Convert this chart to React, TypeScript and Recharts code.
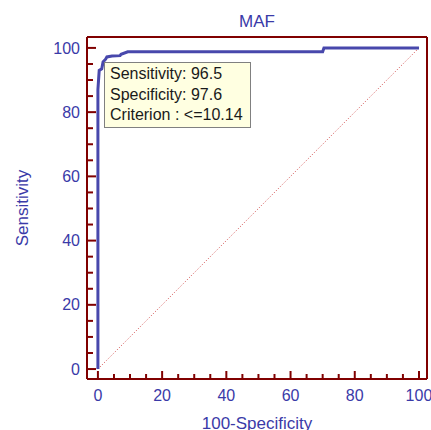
import { LineChart, Line, XAxis, YAxis } from 'recharts';

// ROC curve for MAF
const falsePositive = [0, 0, 0.4, 1.2, 1.6, 2.4, 2.8, 4.4, 6.9, 7.2, 9.3, 70, 70.4, 100];
const sensitivity = [0, 87, 93, 93.5, 95.6, 96.5, 97.2, 97.5, 97.6, 98, 98.8, 98.8, 100, 100];
const diagonalX = [0, 100];
const diagonalY = [0, 100];
const axisTicks = [0, 5, 10, 15, 20, 25, 30, 35, 40, 45, 50, 55, 60, 65, 70, 75, 80, 85, 90, 95, 100];
const infoLines = ['Sensitivity: 96.5', 'Specificity: 97.6', 'Criterion : <=10.14'];

const FRAME = '#800000';
const TEXT = '#3a3aa8';
const CURVE = '#4848ac';
const FONT = '"Liberation Sans", Arial, sans-serif';
const Y_GAP = 7;
const X_GAP = 11;

const rocData = falsePositive.map((x, i) => ({ x, y: sensitivity[i] }));
const diagData = diagonalX.map((x, i) => ({ x, y: diagonalY[i] }));

const YTick = (props: any) => {
  const { x, y, payload } = props;
  const v = payload.value;
  const major = v % 20 === 0;
  const axisX = x + Y_GAP;
  return (
    <g>
      <line x1={axisX} x2={axisX + (major ? 9 : 6)} y1={y} y2={y} stroke={FRAME} strokeWidth={2} />
      {major && (
        <text x={x} y={y} dy="0.355em" textAnchor="end" fill={TEXT} fontSize={16} fontFamily={FONT}>
          {v}
        </text>
      )}
    </g>
  );
};

const XTick = (props: any) => {
  const { x, y, payload } = props;
  const v = payload.value;
  const major = v % 20 === 0;
  const axisY = y - X_GAP;
  return (
    <g>
      <line x1={x} x2={x} y1={axisY} y2={axisY - (major ? 8 : 5)} stroke={FRAME} strokeWidth={2} />
      {major && (
        <text x={x} y={y} dy="0.71em" textAnchor="middle" fill={TEXT} fontSize={16} fontFamily={FONT}>
          {v}
        </text>
      )}
    </g>
  );
};

export default function App() {
  return (
    <div style={{ position: 'absolute', left: 0, top: 0, width: 431, height: 430, background: '#fff', fontFamily: FONT }}>
      <LineChart width={431} height={430} margin={{ top: 0, right: 0, bottom: 0, left: 0 }}>
        <XAxis
          dataKey="x"
          type="number"
          domain={[-3.4, 102.5]}
          allowDataOverflow
          ticks={axisTicks}
          interval={0}
          tickSize={0}
          tickMargin={X_GAP}
          tick={<XTick />}
          height={51}
          axisLine={{ stroke: FRAME, strokeWidth: 2 }}
          label={{ value: '100-Specificity', position: 'insideBottom', offset: 1, fill: TEXT, fontSize: 17, fontFamily: FONT }}
        />
        <XAxis
          xAxisId="top"
          orientation="top"
          type="number"
          domain={[-3.4, 102.5]}
          tick={false}
          tickLine={false}
          height={37}
          axisLine={{ stroke: FRAME, strokeWidth: 2 }}
          label={{ value: 'MAF', position: 'insideTop', offset: 15, fill: TEXT, fontSize: 17, fontFamily: FONT }}
        />
        <YAxis
          dataKey="y"
          type="number"
          domain={[-3.1, 103.4]}
          allowDataOverflow
          ticks={axisTicks}
          interval={0}
          tickSize={0}
          tickMargin={Y_GAP}
          tick={<YTick />}
          width={87}
          axisLine={{ stroke: FRAME, strokeWidth: 2 }}
          label={{
            value: 'Sensitivity',
            angle: -90,
            position: 'insideLeft',
            offset: 22,
            fill: TEXT,
            fontSize: 17,
            fontFamily: FONT,
            style: { textAnchor: 'middle' },
          }}
        />
        <YAxis
          yAxisId="right"
          orientation="right"
          type="number"
          domain={[-3.1, 103.4]}
          tick={false}
          tickLine={false}
          width={4}
          axisLine={{ stroke: FRAME, strokeWidth: 2 }}
        />
        <Line
          data={diagData}
          dataKey="y"
          type="linear"
          stroke="#d04848"
          strokeWidth={1}
          strokeDasharray="1 2"
          dot={false}
          activeDot={false}
          isAnimationActive={false}
        />
        <Line
          data={rocData}
          dataKey="y"
          type="linear"
          stroke={CURVE}
          strokeWidth={3}
          dot={false}
          activeDot={false}
          isAnimationActive={false}
        />
      </LineChart>
      <div
        style={{
          position: 'absolute',
          left: 104,
          top: 62,
          width: 140,
          height: 63,
          background: '#ffffe1',
          border: '1px solid #808080',
          padding: '1px 0 0 5px',
          boxSizing: 'content-box',
          fontSize: 16,
          lineHeight: '20.5px',
          color: '#1a1a1a',
          whiteSpace: 'nowrap',
        }}
      >
        {infoLines.map((t) => (
          <div key={t}>{t}</div>
        ))}
      </div>
    </div>
  );
}
